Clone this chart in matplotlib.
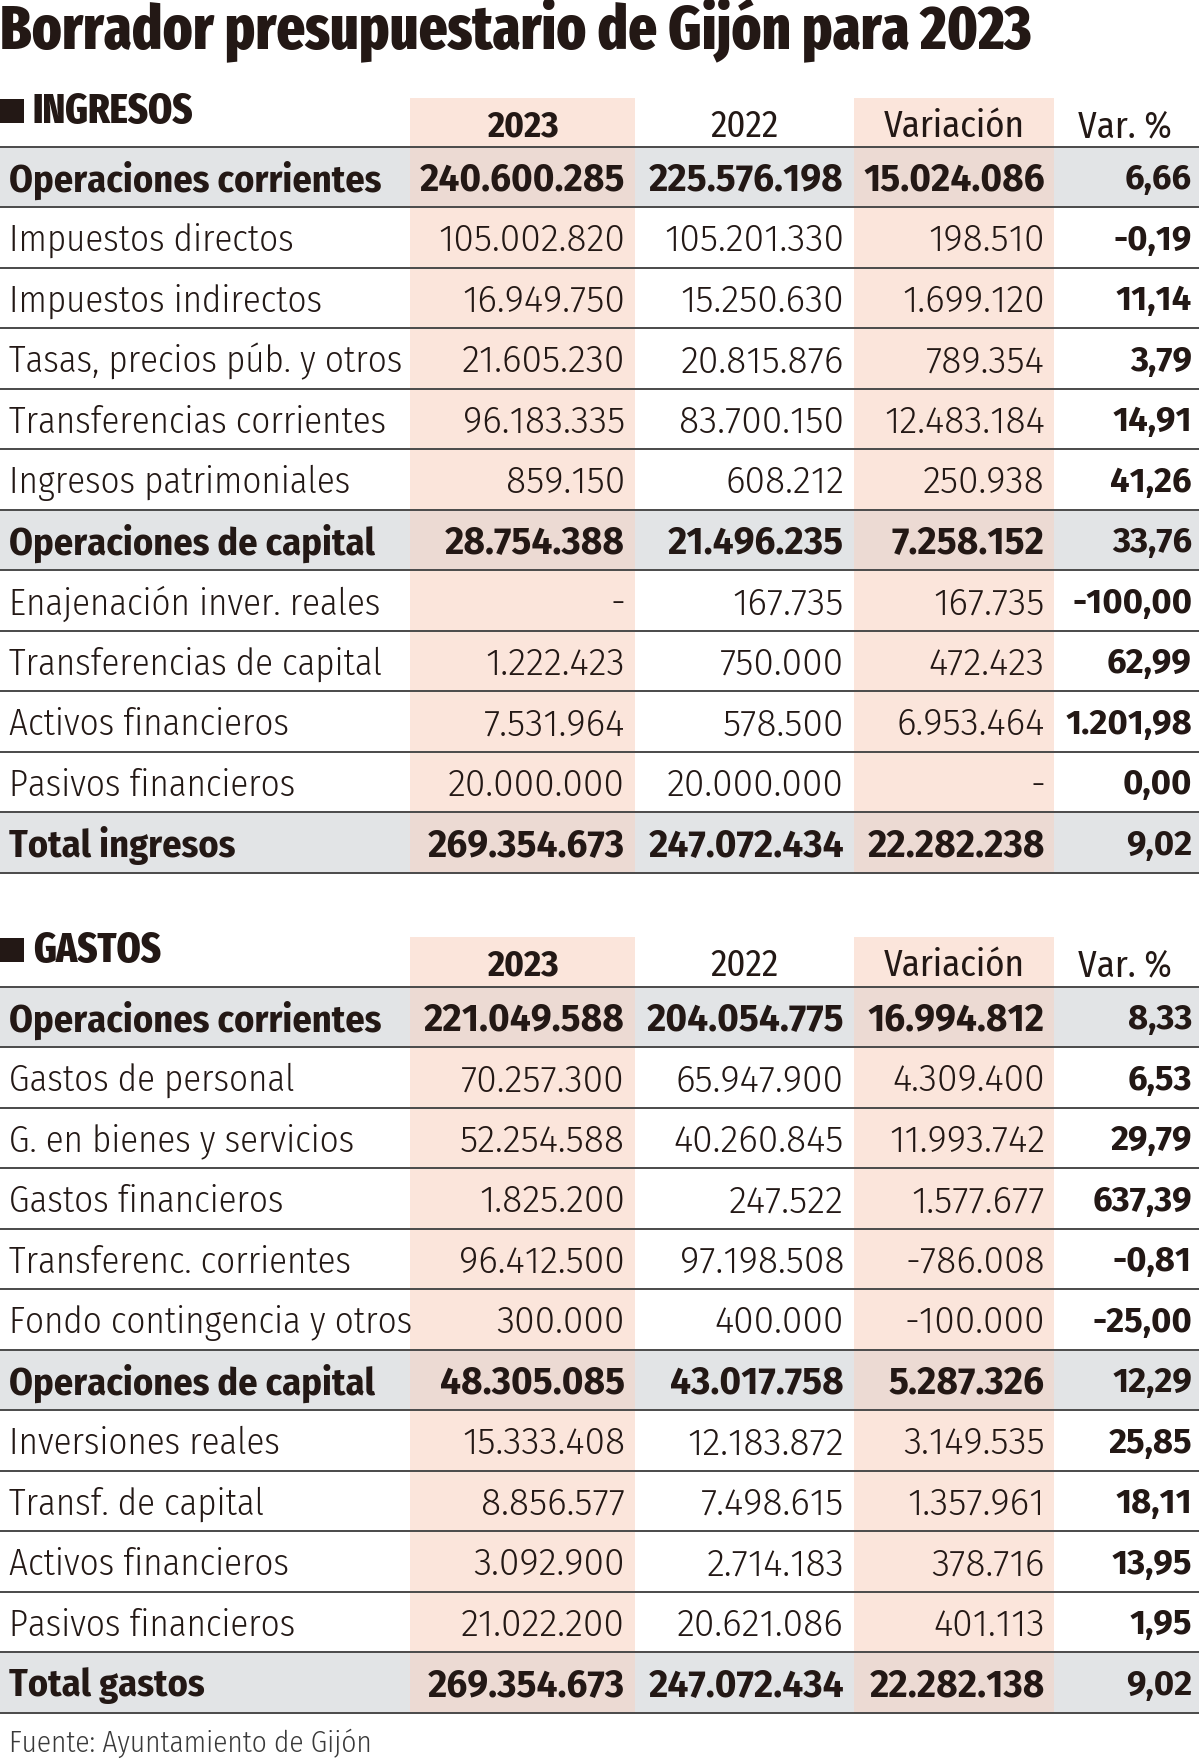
"""
Borrador presupuestario de Gijón para 2023 - tabla de ingresos y gastos
"""

import matplotlib.pyplot as plt
from matplotlib.patches import Rectangle

BODY_FONT = ['Fira Sans Condensed', 'DejaVu Sans']
NUM_FONT = ['Fira Sans', 'DejaVu Sans']
HEAVY_FONT = ['Fira Sans Extra Condensed', 'Fira Sans Condensed', 'DejaVu Sans']
plt.rcParams['font.family'] = BODY_FONT

TITLE = 'Borrador presupuestario de Gijón para 2023'
SOURCE = 'Fuente: Ayuntamiento de Gijón'
COL_HEADERS = ['2023', '2022', 'Variación', 'Var. %']

ing_labels = ['Operaciones corrientes', 'Impuestos directos', 'Impuestos indirectos',
              'Tasas, precios púb. y otros', 'Transferencias corrientes',
              'Ingresos patrimoniales', 'Operaciones de capital',
              'Enajenación inver. reales', 'Transferencias de capital',
              'Activos financieros', 'Pasivos financieros', 'Total ingresos']
ing_2023 = ['240.600.285', '105.002.820', '16.949.750', '21.605.230', '96.183.335',
            '859.150', '28.754.388', '-', '1.222.423', '7.531.964', '20.000.000',
            '269.354.673']
ing_2022 = ['225.576.198', '105.201.330', '15.250.630', '20.815.876', '83.700.150',
            '608.212', '21.496.235', '167.735', '750.000', '578.500', '20.000.000',
            '247.072.434']
ing_var = ['15.024.086', '198.510', '1.699.120', '789.354', '12.483.184', '250.938',
           '7.258.152', '167.735', '472.423', '6.953.464', '-', '22.282.238']
ing_pct = ['6,66', '-0,19', '11,14', '3,79', '14,91', '41,26', '33,76', '-100,00',
           '62,99', '1.201,98', '0,00', '9,02']

gas_labels = ['Operaciones corrientes', 'Gastos de personal', 'G. en bienes y servicios',
              'Gastos financieros', 'Transferenc. corrientes', 'Fondo contingencia y otros',
              'Operaciones de capital', 'Inversiones reales', 'Transf. de capital',
              'Activos financieros', 'Pasivos financieros', 'Total gastos']
gas_2023 = ['221.049.588', '70.257.300', '52.254.588', '1.825.200', '96.412.500',
            '300.000', '48.305.085', '15.333.408', '8.856.577', '3.092.900',
            '21.022.200', '269.354.673']
gas_2022 = ['204.054.775', '65.947.900', '40.260.845', '247.522', '97.198.508',
            '400.000', '43.017.758', '12.183.872', '7.498.615', '2.714.183',
            '20.621.086', '247.072.434']
gas_var = ['16.994.812', '4.309.400', '11.993.742', '1.577.677', '-786.008', '-100.000',
           '5.287.326', '3.149.535', '1.357.961', '378.716', '401.113', '22.282.138']
gas_pct = ['8,33', '6,53', '29,79', '637,39', '-0,81', '-25,00', '12,29', '25,85',
           '18,11', '13,95', '1,95', '9,02']

bold_rows = [0, 6, 11]

# layout (pixels, figure is 1200 x 1760)
W, H = 1200, 1760
ROW_H = 60.5
COL_EDGES = [0, 410, 635, 854, 1054, 1199]    # label | 2023 | 2022 | Variación | Var. %
COL_RIGHT = [625, 844, 1045, 1192]
PINK_COLS = [1, 3]

TEXT = '#231815'
PINK = '#fbe5db'
GREY = '#e2e4e6'
MIX = '#ecdad3'
LINE = '#4a4a4a'
FS = 26.5
FS_BOLD = 27.5
FS_NUM = 26.8
FS_PCT = 25


def draw_section(ax, name, top, header_top, labels, columns):
    table_top = top
    n = len(labels)
    bottom = table_top + n * ROW_H

    # pink column backgrounds
    for c in PINK_COLS:
        ax.add_patch(Rectangle((COL_EDGES[c], header_top), COL_EDGES[c + 1] - COL_EDGES[c],
                               bottom - header_top, color=PINK, lw=0, zorder=1))

    # grey bands for bold rows
    for r in bold_rows:
        y0 = table_top + r * ROW_H
        ax.add_patch(Rectangle((0, y0), W - 1, ROW_H, color=GREY, lw=0, zorder=1))
        for c in PINK_COLS:
            ax.add_patch(Rectangle((COL_EDGES[c], y0), COL_EDGES[c + 1] - COL_EDGES[c],
                                   ROW_H, color=MIX, lw=0, zorder=2))

    # section title with black square
    ax.add_patch(Rectangle((0, header_top + 1), 24, 24, color=TEXT, lw=0, zorder=3))
    ax.text(33, header_top + 14, name, fontsize=30, fontweight=800, family=HEAVY_FONT,
            color=TEXT, va='center', ha='left', zorder=4)

    # column headers
    hy = (header_top + table_top) / 2 + 4
    for i, h in enumerate(COL_HEADERS):
        cx = (COL_EDGES[i + 1] + COL_EDGES[i + 2]) / 2
        if i == 3:
            cx = 1125
        ax.text(cx, hy, h, fontsize=FS, fontweight=700 if i == 0 else 400,
                color=TEXT, ha='center', va='center', zorder=4)

    # horizontal lines
    for r in range(n + 1):
        y = table_top + r * ROW_H
        ax.plot([0, W - 1], [y, y], color=LINE, lw=1.4, zorder=5,
                solid_capstyle='butt')

    # rows
    for r in range(n):
        yc = table_top + (r + 0.5) * ROW_H + 3
        bold = r in bold_rows
        ax.text(9, yc, labels[r], fontsize=FS_BOLD if bold else FS,
                fontweight=700 if bold else 300,
                color=TEXT, ha='left', va='center', zorder=4)
        for c, col in enumerate(columns):
            ax.text(COL_RIGHT[c], yc, col[r], fontsize=FS_PCT if c == 3 else FS_NUM,
                    family=NUM_FONT, fontweight=700 if (bold or c == 3) else 300,
                    color=TEXT, ha='right', va='center', zorder=4)


fig = plt.figure(figsize=(W / 100, H / 100), dpi=100)
ax = fig.add_axes([0, 0, 1, 1])
ax.set_xlim(0, W)
ax.set_ylim(H, 0)
ax.axis('off')

ax.text(0, 30, TITLE, fontsize=44, fontweight=800, family=HEAVY_FONT, color=TEXT,
        ha='left', va='center')

draw_section(ax, 'INGRESOS', 147, 98, ing_labels, [ing_2023, ing_2022, ing_var, ing_pct])
draw_section(ax, 'GASTOS', 987, 937, gas_labels, [gas_2023, gas_2022, gas_var, gas_pct])

ax.text(9, 1743, SOURCE, fontsize=21, fontweight=300, color='#3a3a3a', ha='left',
        va='center')

fig.savefig('out.png', dpi=100)
